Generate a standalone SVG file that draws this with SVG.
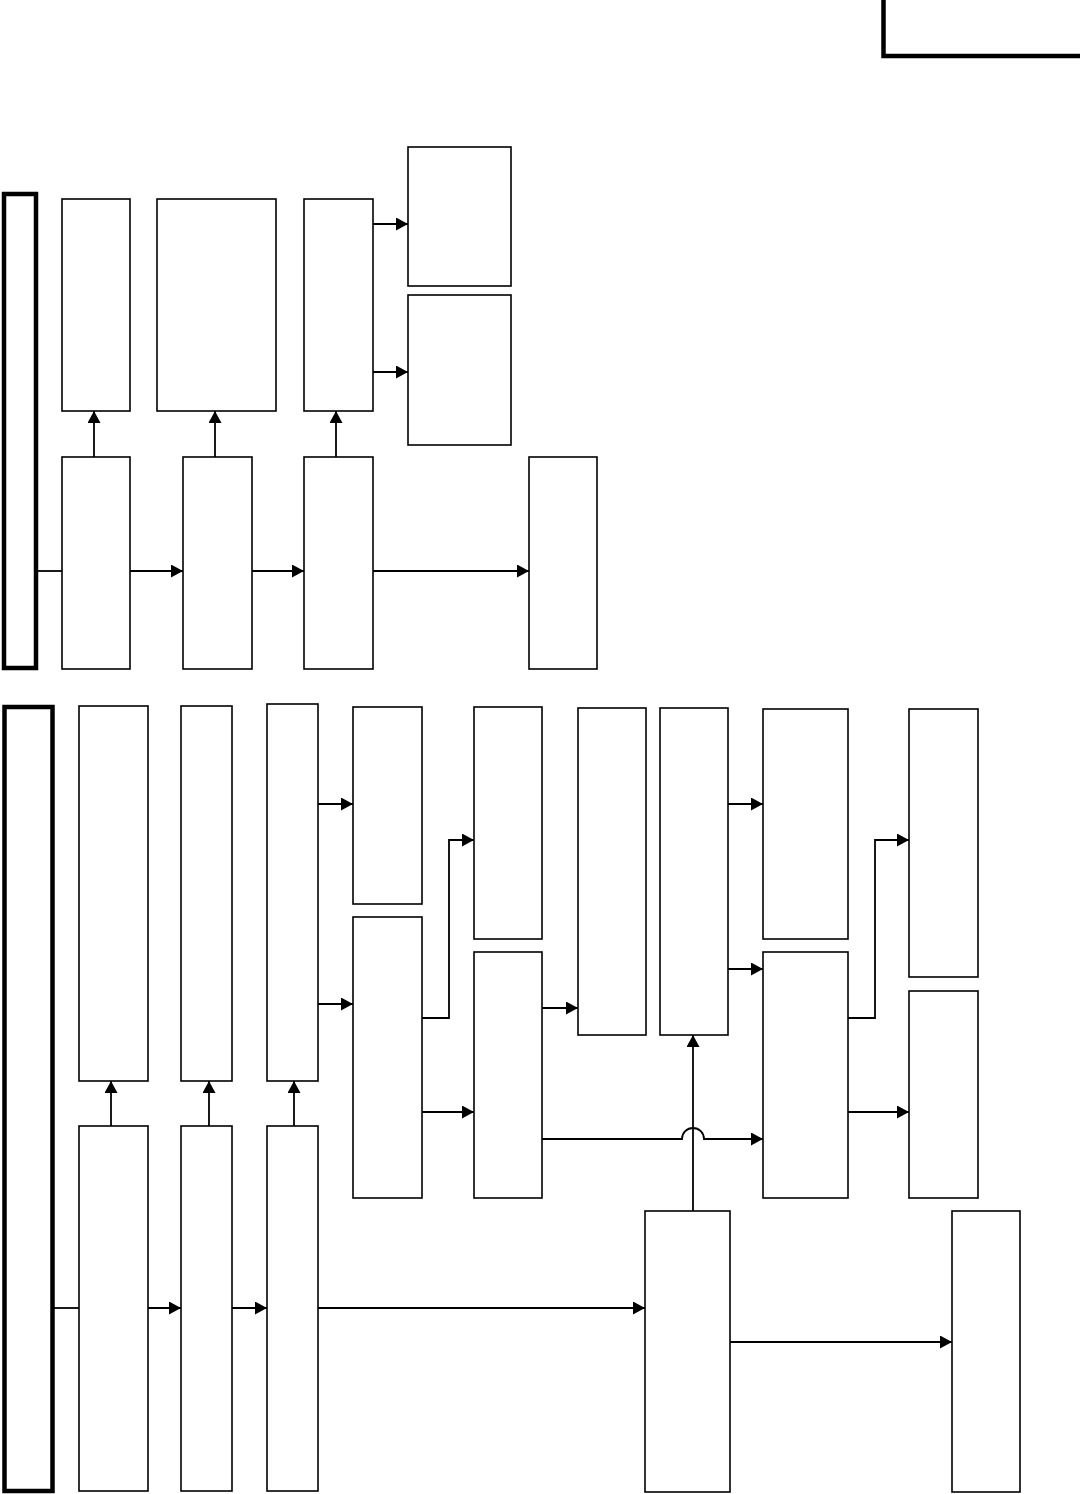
<svg xmlns="http://www.w3.org/2000/svg" width="1080" height="1494" viewBox="0 0 1080 1494">
<style>
.n{fill:#fff;stroke:#000;stroke-width:1.6}
.t{fill:none;stroke:#000;stroke-width:4.5}
.c{fill:none;stroke:#000;stroke-width:1.8}
.a{marker-end:url(#ah)}
</style>
<defs>
<marker id="ah" markerUnits="userSpaceOnUse" markerWidth="13" markerHeight="13" viewBox="0 0 13 13" refX="12" refY="6.5" orient="auto">
<path d="M0,0 L12,6.5 L0,13 Z" fill="#000"/>
</marker>
</defs>
<rect width="1080" height="1494" fill="#fff"/>
<g id="corner"><path class="t" d="M883.5,0 V56 H1080" stroke-width="3"/></g>
<g id="frame1"><rect class="t" x="4" y="194" width="32" height="474"/></g>
<g id="frame2"><rect class="t" x="4.5" y="707" width="48" height="784"/></g>
<g id="A1"><rect class="n" x="62" y="199" width="68" height="212"/></g>
<g id="A2"><rect class="n" x="157" y="199" width="119" height="212"/></g>
<g id="A3"><rect class="n" x="304" y="199" width="69" height="212"/></g>
<g id="A4"><rect class="n" x="408" y="147" width="103" height="139"/></g>
<g id="A5"><rect class="n" x="408" y="295" width="103" height="150"/></g>
<g id="B1"><rect class="n" x="62" y="457" width="68" height="212"/></g>
<g id="B2"><rect class="n" x="183" y="457" width="69" height="212"/></g>
<g id="B3"><rect class="n" x="304" y="457" width="69" height="212"/></g>
<g id="B4"><rect class="n" x="529" y="457" width="68" height="212"/></g>
<g id="C1"><rect class="n" x="79" y="706" width="69" height="375"/></g>
<g id="C2"><rect class="n" x="181" y="706" width="51" height="375"/></g>
<g id="C3"><rect class="n" x="267" y="704" width="51" height="377"/></g>
<g id="C4"><rect class="n" x="353" y="707" width="69" height="197"/></g>
<g id="C5"><rect class="n" x="353" y="917" width="69" height="281"/></g>
<g id="C6"><rect class="n" x="474" y="707" width="68" height="232"/></g>
<g id="C7"><rect class="n" x="474" y="952" width="68" height="246"/></g>
<g id="C8"><rect class="n" x="578" y="708" width="68" height="327"/></g>
<g id="C9"><rect class="n" x="660" y="708" width="68" height="327"/></g>
<g id="C10"><rect class="n" x="763" y="709" width="85" height="230"/></g>
<g id="C11"><rect class="n" x="763" y="952" width="85" height="246"/></g>
<g id="C12"><rect class="n" x="909" y="709" width="69" height="268"/></g>
<g id="C13"><rect class="n" x="909" y="991" width="69" height="207"/></g>
<g id="E1"><rect class="n" x="79" y="1126" width="69" height="365"/></g>
<g id="E2"><rect class="n" x="181" y="1126" width="51" height="365"/></g>
<g id="E3"><rect class="n" x="267" y="1126" width="51" height="365"/></g>
<g id="D1"><rect class="n" x="645" y="1211" width="85" height="281"/></g>
<g id="D2"><rect class="n" x="952" y="1211" width="68" height="281"/></g>
<g id="connectors">
<path class="c" d="M37,571 H62"/>
<path class="c a" d="M130,571 H183"/>
<path class="c a" d="M252,571 H304"/>
<path class="c a" d="M373,571 H529"/>
<path class="c a" d="M94,457 V411"/>
<path class="c a" d="M215,457 V411"/>
<path class="c a" d="M336,457 V411"/>
<path class="c a" d="M373,224 H408"/>
<path class="c a" d="M373,372 H408"/>
<path class="c" d="M53,1308 H79"/>
<path class="c a" d="M148,1308 H181"/>
<path class="c a" d="M232,1308 H267"/>
<path class="c a" d="M318,1308 H645"/>
<path class="c a" d="M111,1126 V1081"/>
<path class="c a" d="M209,1126 V1081"/>
<path class="c a" d="M294,1126 V1081"/>
<path class="c a" d="M318,804 H353"/>
<path class="c a" d="M318,1004 H353"/>
<path class="c a" d="M422,1018 H449 V840 H474"/>
<path class="c a" d="M422,1112 H474"/>
<path class="c a" d="M542,1008 H578"/>
<path class="c a" d="M542,1139 H682 A11,11 0 0 1 704,1139 H763"/>
<path class="c a" d="M693,1211 V1035"/>
<path class="c a" d="M728,804 H763"/>
<path class="c a" d="M728,969 H763"/>
<path class="c a" d="M848,1018 H875 V840 H909"/>
<path class="c a" d="M848,1112 H909"/>
<path class="c a" d="M730,1342 H952"/>
</g>
</svg>
